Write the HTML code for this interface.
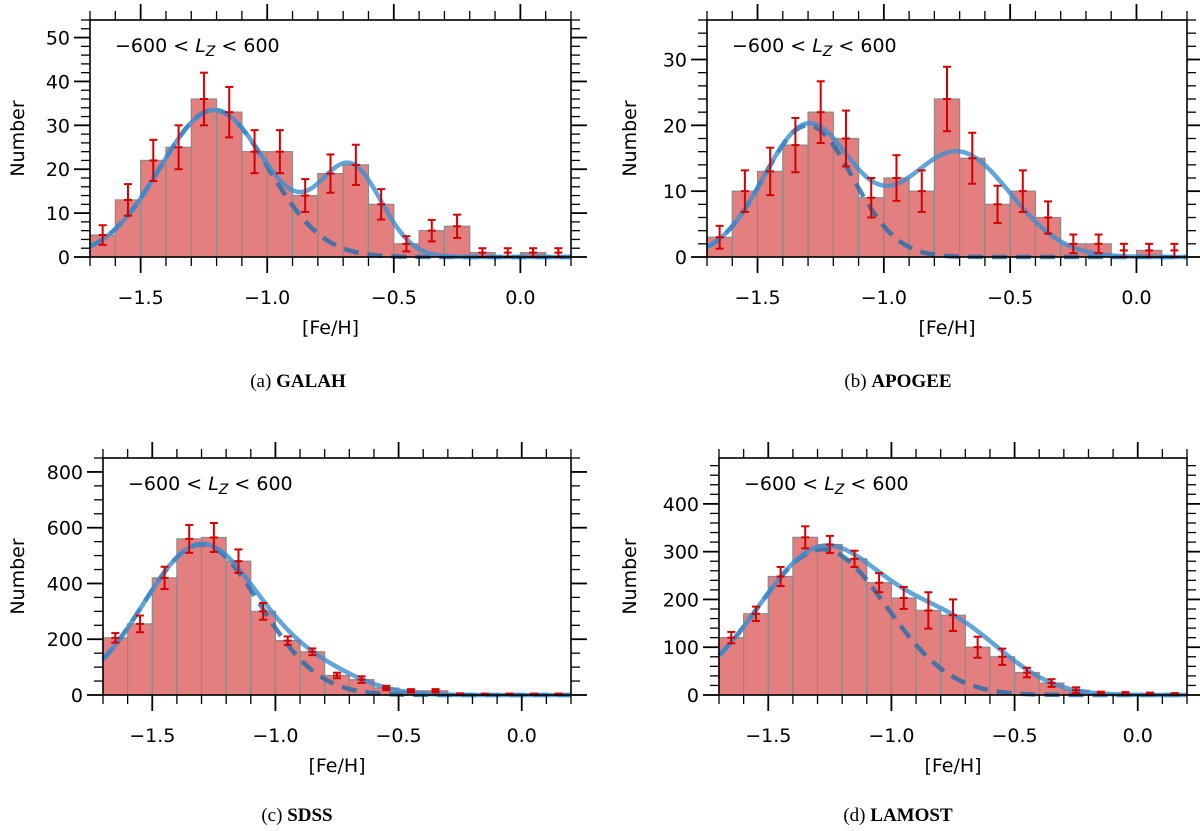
<!DOCTYPE html>
<html><head><meta charset="utf-8">
<style>
html,body{margin:0;padding:0;background:#fff;}
svg{display:block;font-family:"DejaVu Sans","Liberation Sans",sans-serif;}
.cap{font-family:"Liberation Serif",serif;font-size:19px;}
</style></head>
<body>
<svg id="fig" width="1200" height="831" viewBox="0 0 1200 831" xmlns="http://www.w3.org/2000/svg">
<text class="cap" x="298" y="387" text-anchor="middle">(a) <tspan font-weight="bold">GALAH</tspan></text>
<text class="cap" x="898" y="387" text-anchor="middle">(b) <tspan font-weight="bold">APOGEE</tspan></text>
<text class="cap" x="297" y="821" text-anchor="middle">(c) <tspan font-weight="bold">SDSS</tspan></text>
<text class="cap" x="898" y="821" text-anchor="middle">(d) <tspan font-weight="bold">LAMOST</tspan></text>
</svg>
<script>
// ---- data ----
const binCenters = [-1.65,-1.55,-1.45,-1.35,-1.25,-1.15,-1.05,-0.95,-0.85,-0.75,-0.65,-0.55,-0.45,-0.35,-0.25,-0.15,-0.05,0.05,0.15];
const xTicks = [-1.5,-1.0,-0.5,0.0];
const xTickLabels = ["\u22121.5","\u22121.0","\u22120.5","0.0"];
const galahCounts  = [5,13,22,25,36,33,24,24,14,19,21,12,3,6,7,1,0,1,0];
const apogeeCounts = [3,10,13,17,22,18,9,12,10,24,15,8,10,6,2,2,0,1,0];
const sdssCounts   = [205,255,420,560,565,480,300,195,155,70,55,25,15,15,3,2,2,2,2];
const sdssErrors   = [17,30,40,50,52,42,30,15,12,10,12,8,6,6,3,3,3,3,3];
const lamostCounts = [120,170,248,330,315,285,235,203,177,167,100,80,47,25,10,3,2,2,1];
const lamostErrors = [12,15,20,23,18,17,20,23,38,33,22,17,10,8,6,4,4,3,3];
const galahAmp = [33.5,20], galahMu = [-1.21,-0.67], galahSig = [0.214,0.123];
const apogeeAmp = [20,16], apogeeMu = [-1.30,-0.71], apogeeSig = [0.176,0.21];
const sdssAmp = [540,70], sdssMu = [-1.30,-0.82], sdssSig = [0.236,0.18];
const lamostAmp = [305,130], lamostMu = [-1.28,-0.75], lamostSig = [0.26,0.22];
const galahYTicks = [0,10,20,30,40,50];
const apogeeYTicks = [0,10,20,30];
const sdssYTicks = [0,200,400,600,800];
const lamostYTicks = [0,100,200,300,400];

const NS = "http://www.w3.org/2000/svg";
const svg = document.getElementById('fig');
function mk(tag, attrs, parent){
  const e = document.createElementNS(NS, tag);
  for (const k in attrs) e.setAttribute(k, attrs[k]);
  (parent||svg).appendChild(e);
  return e;
}

function panel(p){
  const g = mk('g', {});
  
  
  const xmin=-1.7, xmax=0.2;
  const X = v => p.x0 + (v - xmin) / (xmax - xmin) * (p.x1 - p.x0);
  const Y = v => p.y0 - v / p.ymax * (p.y0 - p.y1);
  const bw = 0.1;
  p.counts.forEach((n,i)=>{
    const c = binCenters[i];
    if (n <= 0) return;
    const r = mk('rect', {x:X(c-bw/2), y:Y(n), width:X(c+bw/2)-X(c-bw/2), height:Y(0)-Y(n),
      fill:'#e47f7f', stroke:'#8a8a8a', 'stroke-width':1.2}, g);
    
    
  });
  const comp = (k,x) => p.amp[k]*Math.exp(-Math.pow(x-p.mu[k],2)/(2*p.sig[k]*p.sig[k]));
  let dTot='', dC1='';
  for (let j=0;j<=400;j++){
    const x = xmin + (xmax-xmin)*j/400;
    const t = comp(0,x)+comp(1,x);
    dTot += (j?'L':'M') + X(x).toFixed(2) + ',' + Y(t).toFixed(2);
    dC1 += (j?'L':'M') + X(x).toFixed(2) + ',' + Y(comp(0,x)).toFixed(2);
  }
  const c1 = mk('path', {d:dC1, fill:'none', stroke:'#2c6ea8', 'stroke-width':4.5, 'stroke-dasharray':'15,9', opacity:0.85}, g);
  
  
  const tot = mk('path', {d:dTot, fill:'none', stroke:'#3d8fcf', 'stroke-width':4.5, opacity:0.8}, g);
  
  
  p.counts.forEach((n,i)=>{
    const cx = X(binCenters[i]);
    const m = Math.max(n,1);
    const e = p.errors ? p.errors[i] : Math.sqrt(m);
    const eg = mk('g', {stroke:'#d40000', 'stroke-width':2}, g);
    
    
    mk('line', {x1:cx, x2:cx, y1:Y(Math.max(m-e,0)), y2:Y(m+e)}, eg);
    mk('line', {x1:cx-4, x2:cx+4, y1:Y(Math.max(m-e,0)), y2:Y(Math.max(m-e,0))}, eg);
    mk('line', {x1:cx-4, x2:cx+4, y1:Y(m+e), y2:Y(m+e)}, eg);
    mk('line', {x1:cx-4, x2:cx+4, y1:Y(m), y2:Y(m)}, eg);
  });
  const fr = mk('rect', {x:p.x0, y:p.y1, width:p.x1-p.x0, height:p.y0-p.y1, fill:'none', stroke:'#000', 'stroke-width':1.6}, g);
  
  
  const tk = mk('g', {stroke:'#000'}, g);
  
  
  for (let k=0;k<=19;k++){
    const v = -1.7 + k*0.1;
    const major = Math.abs((v*2) - Math.round(v*2)) < 1e-6;
    const L = major?16:9, sw = major?1.8:1.3, xx = X(v);
    mk('line', {x1:xx,x2:xx,y1:p.y0,y2:p.y0+L,'stroke-width':sw}, tk);
    mk('line', {x1:xx,x2:xx,y1:p.y1,y2:p.y1-L,'stroke-width':sw}, tk);
  }
  for (let v=0; v<=p.ymax+1e-9; v+=p.minor){
    const major = Math.abs(v/p.major - Math.round(v/p.major)) < 1e-6;
    const L = major?16:9, sw = major?1.8:1.3, yy = Y(v);
    mk('line', {x1:p.x0,x2:p.x0-L,y1:yy,y2:yy,'stroke-width':sw}, tk);
    mk('line', {x1:p.x1,x2:p.x1+L,y1:yy,y2:yy,'stroke-width':sw}, tk);
  }
  xTicks.forEach((v,i)=>{
    const t = mk('text', {x:X(v), y:p.y0+47, 'text-anchor':'middle', 'font-size':19}, g);
    t.textContent = xTickLabels[i];
    
    
  });
  p.yticks.forEach(v=>{
    const t = mk('text', {x:p.x0-20, y:Y(v)+7, 'text-anchor':'end', 'font-size':19}, g);
    t.textContent = String(v);
    
    
  });
  const xl = mk('text', {x:(p.x0+p.x1)/2, y:p.y0+77, 'text-anchor':'middle', 'font-size':19}, g);
  xl.textContent = '[Fe/H]';
  
  
  const ym = (p.y0+p.y1)/2;
  const yl = mk('text', {x:p.ytx, y:ym, 'text-anchor':'middle', 'font-size':19, transform:'rotate(-90 '+p.ytx+' '+ym+')'}, g);
  yl.textContent = 'Number';
  
  
  const an = mk('text', {x:p.x0+25, y:p.y1+32, 'font-size':19}, g);
  
  
  const s1 = mk('tspan', {}, an); s1.textContent = '\u2212600 < ';
  const s2 = mk('tspan', {'font-style':'italic'}, an); s2.textContent = 'L';
  const s3 = mk('tspan', {'font-style':'italic','font-size':14, dy:4}, an); s3.textContent = 'Z';
  const s4 = mk('tspan', {dy:-4}, an); s4.textContent = ' < 600';
}

panel({id:'galah', x0:90, x1:571, y0:257, y1:20, ymax:54, major:10, minor:2, yticks:galahYTicks,
  counts:galahCounts, amp:galahAmp, mu:galahMu, sig:galahSig, ytx:24});
panel({id:'apogee', x0:707, x1:1187, y0:257, y1:20, ymax:36, major:10, minor:2, yticks:apogeeYTicks,
  counts:apogeeCounts, amp:apogeeAmp, mu:apogeeMu, sig:apogeeSig, ytx:636});
panel({id:'sdss', x0:103, x1:571, y0:695, y1:458, ymax:850, major:200, minor:50, yticks:sdssYTicks,
  counts:sdssCounts, errors:sdssErrors, amp:sdssAmp, mu:sdssMu, sig:sdssSig, ytx:24});
panel({id:'lamost', x0:719, x1:1187, y0:695, y1:458, ymax:496, major:100, minor:20, yticks:lamostYTicks,
  counts:lamostCounts, errors:lamostErrors, amp:lamostAmp, mu:lamostMu, sig:lamostSig, ytx:636});
</script>
</body></html>
